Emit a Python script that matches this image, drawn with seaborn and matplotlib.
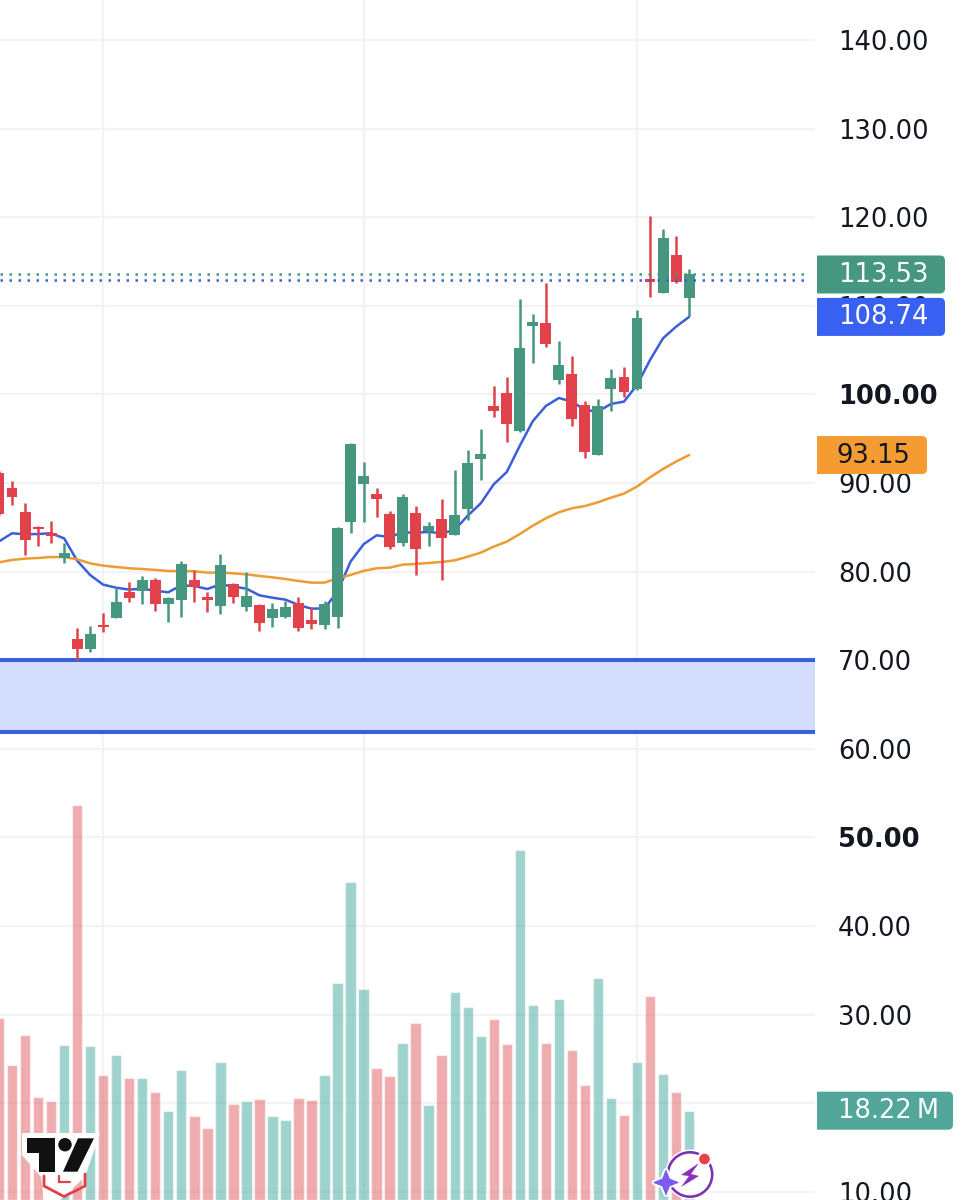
import numpy as np
import pandas as pd
import seaborn as sns
import matplotlib.pyplot as plt
from matplotlib.patches import Circle, PathPatch, Polygon, Wedge
from matplotlib.path import Path

# Session bars: body top, body bottom, wick high, wick low, direction
body_top = [91.16, 89.40, 86.76, 84.99, 84.30, 82.10, 72.35, 72.92, 73.97, 76.57, 77.66, 79.09, 79.01, 77.05,
            80.89, 79.09, 77.17, 80.78, 78.60, 77.24, 76.26, 75.81, 76.00, 76.41, 74.53, 76.34, 84.96, 94.36,
            90.83, 88.76, 86.50, 88.38, 86.58, 85.11, 85.94, 86.43, 92.26, 93.27, 98.73, 100.16, 105.24, 108.21,
            108.02, 103.28, 102.34, 98.80, 98.69, 101.85, 101.93, 108.66, 113.00, 117.61, 115.77, 113.53]
body_bottom = [86.50, 88.42, 83.56, 84.77, 84.00, 81.49, 71.22, 71.26, 73.74, 74.80, 77.05, 77.81, 76.30, 76.30,
               76.79, 78.26, 76.79, 76.15, 77.17, 76.04, 74.20, 74.80, 74.91, 73.63, 74.08, 73.93, 74.88, 85.63,
               89.92, 88.16, 82.81, 83.27, 82.55, 84.62, 83.79, 84.13, 87.06, 92.67, 98.09, 96.66, 95.87, 107.76,
               105.69, 101.66, 97.19, 93.46, 93.20, 100.65, 100.27, 100.61, 112.72, 111.41, 112.72, 110.84]
wick_high = [91.30, 90.22, 87.70, 85.14, 85.75, 83.19, 73.59, 73.90, 75.29, 78.30, 78.86, 79.54, 79.24, 77.17,
             81.19, 80.18, 77.66, 81.95, 78.67, 79.91, 76.38, 76.41, 76.72, 77.17, 76.04, 76.68, 84.99, 94.48,
             92.41, 89.47, 86.84, 88.76, 87.37, 85.63, 88.16, 91.47, 93.69, 96.13, 100.95, 101.96, 110.80, 109.11,
             112.57, 105.99, 104.30, 99.25, 99.48, 102.87, 103.13, 109.53, 120.13, 118.70, 117.88, 114.15]
wick_low = [86.40, 87.55, 81.87, 82.92, 83.19, 80.93, 70.02, 70.88, 73.14, 74.80, 76.60, 76.30, 75.59, 74.35,
            74.91, 76.60, 75.44, 75.17, 76.49, 75.59, 73.33, 73.78, 74.72, 73.33, 73.56, 73.56, 73.67, 84.39,
            85.63, 86.20, 82.51, 82.89, 79.58, 82.89, 79.05, 84.13, 85.82, 90.34, 97.49, 94.63, 95.79, 103.51,
            105.31, 101.14, 96.43, 92.86, 93.12, 98.09, 99.70, 100.50, 111.03, 111.41, 112.53, 108.85]
direction = [
    "down", "down", "down", "down", "down", "up", "down", "up", "down", "up", "down", "up", "down", "up",
    "up", "down", "down", "up", "down", "up", "down", "up", "up", "down", "down", "up", "up", "up",
    "up", "down", "down", "up", "down", "up", "down", "up", "up", "up", "down", "down", "up", "up",
    "down", "up", "down", "down", "up", "up", "down", "up", "down", "up", "down", "up"]

fast_avg = [83.40, 84.32, 84.20, 84.24, 84.32, 83.75, 81.23, 79.61, 78.52, 78.18, 77.96, 78.07, 77.84, 77.66,
            78.45, 78.37, 78.03, 78.56, 78.30, 78.07, 77.32, 77.05, 76.83, 76.23, 75.81, 75.85, 77.73, 81.12,
            83.08, 84.09, 83.90, 84.43, 84.39, 84.47, 84.32, 84.70, 86.31, 87.70, 89.85, 91.24, 94.21, 96.98,
            98.69, 99.59, 99.18, 98.24, 98.05, 98.92, 99.18, 101.06, 103.88, 106.33, 107.64, 108.74]
slow_avg = [81.04, 81.31, 81.46, 81.53, 81.64, 81.64, 81.38, 80.93, 80.67, 80.52, 80.37, 80.29, 80.18, 80.06,
            80.06, 80.03, 79.88, 79.88, 79.80, 79.69, 79.50, 79.35, 79.16, 78.94, 78.75, 78.75, 79.24, 79.62,
            80.07, 80.37, 80.44, 80.78, 80.86, 80.97, 81.08, 81.27, 81.68, 82.14, 82.81, 83.38, 84.24, 85.18,
            86.01, 86.69, 87.14, 87.40, 87.82, 88.34, 88.80, 89.59, 90.64, 91.58, 92.41, 93.15]
volume_m = [37.2, 27.5, 33.7, 21.0, 20.1, 31.6, 80.6, 31.4, 25.5, 29.6, 24.8, 24.8, 22.0, 18.2,
            26.5, 17.1, 14.7, 28.2, 19.6, 20.2, 20.6, 17.2, 16.3, 20.9, 20.3, 25.6, 44.3, 64.9,
            43.0, 26.9, 25.3, 32.0, 36.1, 19.4, 29.6, 42.4, 39.4, 33.5, 36.9, 31.8, 71.4, 39.8,
            32.0, 41.0, 30.6, 23.5, 45.3, 20.8, 17.3, 28.2, 41.6, 25.7, 22.0, 18.22]

price_ticks = [10, 20, 30, 40, 50, 60, 70, 80, 90, 100, 110, 120, 130, 140]
bold_ticks = [50, 100]
session_bars = [8, 28, 49]
zone_high, zone_low = 70.0, 61.9
last_price, prior_close = 113.53, 112.90

UP, DOWN = "#46977F", "#E1414A"
BLUE, ORANGE = "#3A5FDC", "#EE9B33"
GRID = "#F3F3F5"
INK = "#131722"
LABEL_SIZE = 18.5

sns.set_theme(style="white")
plt.rcParams["font.family"] = ["DejaVu Sans"]

frame = pd.DataFrame({"bar": np.arange(len(volume_m)), "volume": volume_m, "direction": direction})

fig = plt.figure(figsize=(9.63, 12), dpi=100, facecolor="white")
pane = [0, 0, 815 / 963, 1]
ax = fig.add_axes(pane, zorder=1)
ax_vol = fig.add_axes(pane, zorder=2)
ax_vol.patch.set_visible(False)
overlay = fig.add_axes([0, 0, 1, 1], zorder=3)
overlay.patch.set_visible(False)
overlay.set_xlim(0, 963)
overlay.set_ylim(1200, 0)
overlay.axis("off")

# Price pane
ax.set_xlim(0.0768, 62.67)
ax.set_ylim(9.07, 144.51)
ax.set_axisbelow(True)
ax.yaxis.tick_right()
ax.set_yticks(price_ticks)
ax.set_yticklabels([f"{t:.2f}" for t in price_ticks], fontsize=LABEL_SIZE, color=INK)
ax.tick_params(axis="y", length=0, pad=16.5)
ax.set_xticks(session_bars)
ax.set_xticklabels([])
ax.tick_params(axis="x", length=0)
ax.grid(True, color=GRID, lw=1.6)
for spine in ax.spines.values():
    spine.set_visible(False)
for label, tick in zip(ax.get_yticklabels(), price_ticks):
    if tick in bold_ticks:
        label.set_fontweight("bold")

# Support zone
ax.axhspan(zone_low, zone_high, color="#D4DDFB", lw=0, zorder=0.8)
ax.axhline(zone_high, color=BLUE, lw=2.9, zorder=1)
ax.axhline(zone_low, color=BLUE, lw=2.9, zorder=1)

# Moving averages sit beneath the candles
sns.lineplot(x=frame["bar"], y=fast_avg, ax=ax, color=BLUE, lw=1.8, estimator=None, zorder=2)
sns.lineplot(x=frame["bar"], y=slow_avg, ax=ax, color=ORANGE, lw=1.8, estimator=None, zorder=2)
ax.set_xlabel("")
ax.set_ylabel("")

# Candles
colors = [UP if d == "up" else DOWN for d in direction]
heights = np.array(body_top) - np.array(body_bottom)
ax.vlines(frame["bar"], wick_low, wick_high, colors=colors, lw=1.8, zorder=3)
ax.bar(frame["bar"], heights, bottom=body_bottom, width=0.84, color=colors, lw=0, zorder=3)

# Last price markers run over the candles and stop short of the scale
dots = (0, (1, 2.6))
ax.axhline(last_price, xmax=809 / 815, color=UP, lw=1.8, ls=dots, zorder=4)
ax.axhline(prior_close, xmax=809 / 815, color=BLUE, lw=1.8, ls=dots, zorder=4)

# Volume pane
sns.barplot(data=frame, x="bar", y="volume", hue="direction", native_scale=True, dodge=False,
            palette={"up": "#3FA79C", "down": "#DF5A5E"}, alpha=0.5, saturation=1, width=0.8,
            errorbar=None, legend=False, ax=ax_vol)
ax_vol.set_xlim(ax.get_xlim())
ax_vol.set_ylim(0, 244.8)
ax_vol.axis("off")


def tag_path(x0, x1, yc, h=38, r=5):
    """Value tag: square on the left, rounded corners on the right."""
    top, bot = yc - h / 2, yc + h / 2
    verts = [(x0, top), (x1 - r, top), (x1, top), (x1, top + r), (x1, bot - r), (x1, bot), (x1 - r, bot), (x0, bot), (x0, top)]
    codes = [Path.MOVETO, Path.LINETO, Path.CURVE3, Path.CURVE3, Path.LINETO, Path.CURVE3, Path.CURVE3, Path.LINETO, Path.CLOSEPOLY]
    return Path(verts, codes)


def price_y(value, axes=ax):
    return 1200 - axes.transData.transform((0, value))[1]


tags = [
    ("113.53", price_y(113.53), 945, "#46977F", "white", 838),
    ("108.74", price_y(108.74), 945, "#3861F1", "white", 838),
    ("93.15", price_y(93.15), 927, "#F49B32", INK, 836),
    ("18.22\u2009M", price_y(18.22, ax_vol), 953, "#52A69A", "white", 838),
]
for text, yc, x1, face, ink, xt in tags:
    overlay.add_patch(PathPatch(tag_path(817, x1, yc), fc=face, ec="none"))
    overlay.text(xt, yc + 0.5, text, color=ink, fontsize=LABEL_SIZE, va="center", ha="left")

# Chart brand mark, bottom left
overlay.add_patch(Polygon([(22, 1133), (100, 1133), (85, 1177), (60, 1200), (44, 1200), (41, 1177), (22, 1155)],
                          fc="white", ec="none"))
overlay.add_patch(Polygon([(26.7, 1138.3), (55, 1138.3), (55, 1171.7), (39.3, 1171.7), (39.3, 1152.7), (26.7, 1152.7)],
                          fc="#111111", ec="none"))
overlay.add_patch(Circle((65, 1144.7), 6.7, fc="#111111", ec="none"))
overlay.add_patch(Polygon([(78, 1138.3), (94, 1138.3), (77.5, 1171.7), (63, 1171.7)], fc="#111111", ec="none"))
overlay.plot([44, 44, 64, 85, 85], [1176, 1186, 1196.5, 1186, 1174], color="#DF4049", lw=2.0, solid_joinstyle="miter")
overlay.plot([59, 59, 70], [1176, 1181.5, 1181.5], color="#DF4049", lw=1.6, solid_joinstyle="miter")

# Assistant badge, bottom right of the bars
overlay.add_patch(Circle((690, 1174.5), 25, fc="white", ec="none"))
overlay.add_patch(Wedge((690, 1174.5), 23.5, 0, 360, width=2.6, fc="#7E30B5", ec="none"))
overlay.add_patch(Polygon([(699, 1163), (681, 1175), (689, 1176), (681, 1187), (699, 1176), (691, 1174)],
                          fc="#8A32BC", ec="none"))
overlay.add_patch(Circle((704.5, 1159), 7.5, fc="white", ec="none"))
overlay.add_patch(Circle((704.5, 1159), 5.3, fc="#E5424A", ec="none"))
star_c = (666, 1182.5)
star_r, star_in = 12, 4.8
star_pts = []
for k in range(8):
    a = np.pi / 4 * k
    r = star_r if k % 2 == 0 else star_in
    star_pts.append((star_c[0] + r * np.cos(a), star_c[1] + r * np.sin(a)))
overlay.add_patch(Polygon(star_pts, fc="#7A5CF2", ec="white", lw=3.5, joinstyle="round"))
overlay.add_patch(Polygon(star_pts, fc="#7A5CF2", ec="#7A5CF2", lw=0.8, joinstyle="round"))

fig.savefig("out.png", dpi=100)
